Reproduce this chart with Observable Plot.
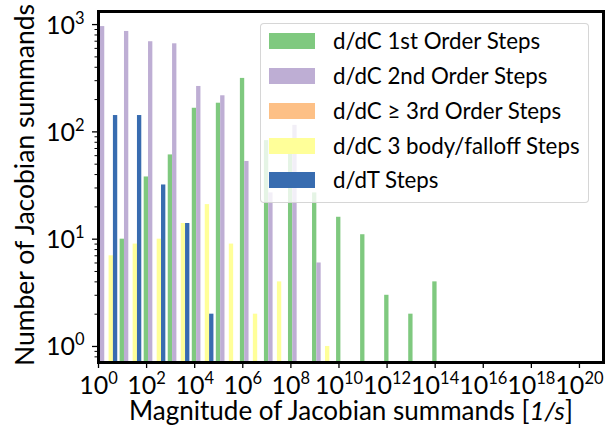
<!DOCTYPE html>
<html><head><meta charset="utf-8">
<script src="https://cdn.jsdelivr.net/npm/d3@7"></script>
<script src="https://cdn.jsdelivr.net/npm/@observablehq/plot@0.6"></script>
<style>
body{margin:0;background:#fff;}
#wrap{position:relative;width:611px;height:437px;font-family:Lato,sans-serif;}
#legend{position:absolute;left:260px;top:23px;width:329px;height:180px;box-sizing:border-box;background:rgba(255,255,255,0.8);border:1px solid rgba(204,204,204,0.8);border-radius:4px;}
.sw{position:absolute;left:8px;width:46px;height:16px;}
.lab{position:absolute;left:72px;font-size:22.3px;white-space:nowrap;color:#000;line-height:16px;}
</style></head>
<body><div id="wrap"></div>
<script>
// ---- data (counts per decade bin of the magnitude) ----
const seriesNames = ["d/dC 1st Order Steps", "d/dC 2nd Order Steps", "d/dC \u2265 3rd Order Steps", "d/dC 3 body/falloff Steps", "d/dT Steps"];
const seriesColors = ["#7fc97f", "#beaed4", "#fdc086", "#ffff99", "#386cb0"];
const binIndex = [0, 1, 2, 3, 4, 5, 6, 7, 8, 9, 10, 11, 12, 13, 14];
const firstOrder  = [0, 10, 38, 61, 166, 185, 315, 83, 62, 27, 16, 11, 3, 2, 4];
const secondOrder = [958, 863, 692, 662, 265, 217, 53, 27, 115, 6, 0, 0, 0, 0, 0];
const thirdOrder  = [0, 0, 0, 0, 0, 0, 0, 0, 0, 0, 0, 0, 0, 0, 0];
const threeBody   = [7, 9, 10, 14, 21, 9, 2, 4, 0, 1, 0, 0, 0, 0, 0];
const dTSteps     = [142, 142, 32, 14, 2, 0, 0, 0, 0, 0, 0, 0, 0, 0, 0];
const xTickExponents = [0, 2, 4, 6, 8, 10, 12, 14, 16, 18, 20];
const yTickExponents = [0, 1, 2, 3];

// histogram layout parameters (log10 decades)
const firstBinEdge = -0.15, binWidth = 1, rwidth = 0.9;
const yDomain = [0.709, 1324];
const allSeries = [firstOrder, secondOrder, thirdOrder, threeBody, dTSteps];
const nS = allSeries.length;
const barW = rwidth * binWidth / nS;
const rows = [];
allSeries.forEach((vals, s) => {
  binIndex.forEach((k, i) => {
    const v = vals[i];
    if (!v) return;
    const lo = firstBinEdge + k * binWidth + (1 - rwidth) * binWidth / 2 + s * barW;
    rows.push({x1: 10 ** lo, x2: 10 ** (lo + barW), y: v, s});
  });
});
const yMinor = [];
for (let e = -1; e <= 3; e++) for (let m = 2; m <= 9; m++) {
  const v = m * 10 ** e;
  if (v >= yDomain[0] && v <= yDomain[1]) yMinor.push(v);
}

const plot = Plot.plot({
  width: 611, height: 437,
  marginLeft: 98, marginRight: 8, marginTop: 11, marginBottom: 75,
  style: {fontFamily: "Lato, sans-serif", background: "white", color: "black"},
  x: {type: "log", domain: [1, 1e21]},
  y: {type: "log", domain: yDomain},
  color: {domain: d3.range(nS), range: seriesColors},
  marks: [
    Plot.rect(rows, {x1: "x1", x2: "x2", y1: 0.01, y2: "y", fill: "s", clip: true}),
    Plot.axisX(xTickExponents.map(e => 10 ** e), {tickSize: 6, strokeWidth: 1.3, tickFormat: () => "", label: null}),
    Plot.axisY(yTickExponents.map(e => 10 ** e), {tickSize: 6, strokeWidth: 1.3, tickFormat: () => "", label: null}),
    Plot.axisY(yMinor, {tickSize: 3.5, strokeWidth: 1, tickFormat: () => "", label: null}),
    Plot.frame({stroke: "black", strokeWidth: 3}),
    Plot.text(xTickExponents, {x: e => 10 ** e, frameAnchor: "bottom", lineAnchor: "bottom", dy: 31.5, text: e => "10^" + e, fontSize: 25, className: "suplab"}),
    Plot.text(yTickExponents, {y: e => 10 ** e, frameAnchor: "left", lineAnchor: "bottom", textAnchor: "end", dx: -14, dy: 9, text: e => "10^" + e, fontSize: 25, className: "suplab"}),
    Plot.text(["Magnitude of Jacobian summands [|1/s|]"], {frameAnchor: "bottom", lineAnchor: "bottom", dy: 57.5, fontSize: 26, className: "xlab"}),
    Plot.text(["Number of Jacobian summands"], {frameAnchor: "left", lineAnchor: "bottom", textAnchor: "middle", rotate: -90, dx: -65, dy: -2, fontSize: 26.5})
  ]
});
const wrap = document.getElementById("wrap");
wrap.appendChild(plot);
d3.select(plot).selectAll(".suplab text").each(function() {
  const t = d3.select(this);
  const [b, e] = t.text().split("^");
  t.text(b);
  t.append("tspan").attr("dy", -10).attr("font-size", 16.5).text(e);
});
d3.select(plot).selectAll(".xlab text").each(function() {
  const t = d3.select(this);
  const parts = t.text().split("|");
  t.text(parts[0]);
  t.append("tspan").attr("font-style", "italic").text(parts[1]);
  t.append("tspan").text(parts[2]);
});
// legend
const leg = document.createElement("div");
leg.id = "legend";
seriesNames.forEach((name, i) => {
  const top = 9 + i * 34.85;
  const sw = document.createElement("div");
  sw.className = "sw"; sw.style.top = top + "px"; sw.style.background = seriesColors[i];
  const lab = document.createElement("div");
  lab.className = "lab"; lab.style.top = top + "px"; lab.textContent = name;
  leg.appendChild(sw); leg.appendChild(lab);
});
wrap.appendChild(leg);
</script>
</body></html>
